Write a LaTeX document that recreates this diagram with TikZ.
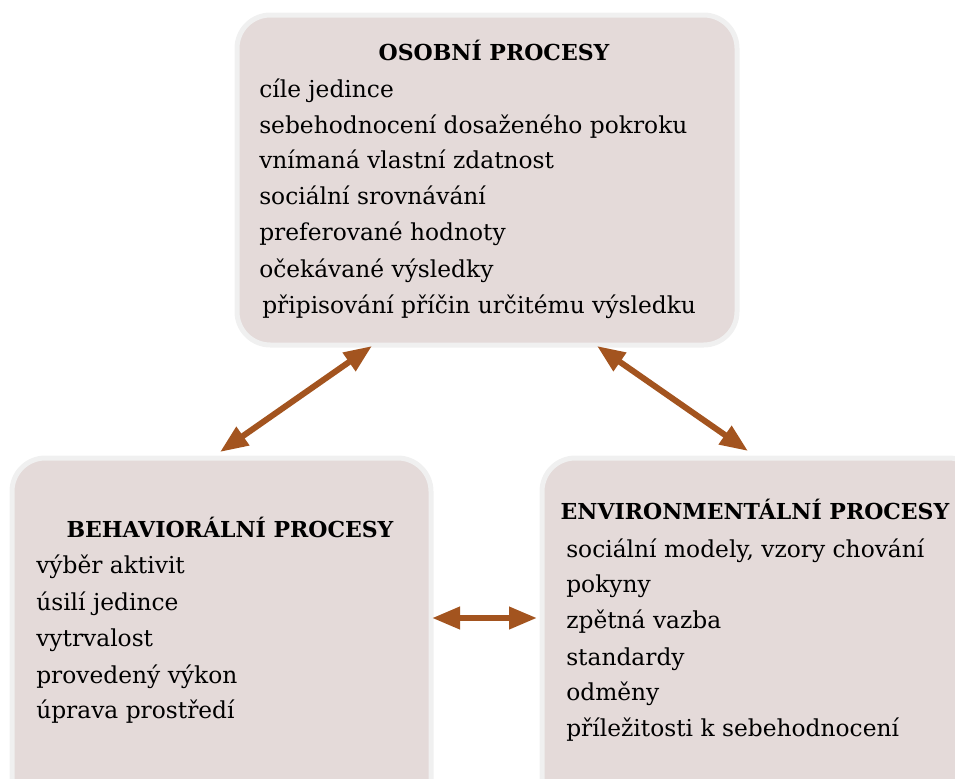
\documentclass[tikz,border=0pt]{standalone}
\usepackage{fontspec}
\setmainfont{DejaVu Serif}
\usetikzlibrary{arrows.meta}
\definecolor{panelfill}{HTML}{E4DAD9}
\definecolor{panelrim}{HTML}{F0F0F0}
\definecolor{linkcol}{HTML}{A3541F}
\tikzset{
  panel/.style={draw=panelrim, line width=3.75pt, fill=panelfill,
    rounded corners=25pt, inner sep=0pt, anchor=north west},
  heading/.style={anchor=base, inner sep=0pt, font=\fontsize{16.5}{19}\selectfont\bfseries},
  item/.style={anchor=base west, inner sep=0pt, font=\fontsize{17.5}{21}\selectfont},
  link/.style={draw=linkcol, line width=4.5pt,
    {Triangle[length=21pt, width=16pt]}-{Triangle[length=21pt, width=16pt]}}
}
\begin{document}
\begin{tikzpicture}[x=0.75pt, y=-0.75pt]
  \useasboundingbox (0,0) rectangle (955,778);
  \clip (0,0) rectangle (955,778);
  % three panels
  \node[panel, minimum width=375pt, minimum height=247.5pt] (pers) at (234.5,12.5) {};
  \node[panel, minimum width=314.25pt, minimum height=270pt] (beh) at (9.5,455.5) {};
  \node[panel, minimum width=330pt, minimum height=270pt] (env) at (539.5,455.5) {};

  % personal processes
  \node[heading] (persT) at (494,60) {OSOBNÍ PROCESY};
  \node[item] (p1) at (259,97) {cíle jedince};
  \node[item] (p2) at (259,133) {sebehodnocení dosaženého pokroku};
  \node[item] (p3) at (259,168) {vnímaná vlastní zdatnost};
  \node[item] (p4) at (259,204) {sociální srovnávání};
  \node[item] (p5) at (259,240) {preferované hodnoty};
  \node[item] (p6) at (259,277) {očekávané výsledky};
  \node[item] (p7) at (262,313) {připisování příčin určitému výsledku};

  % behavioural processes
  \node[heading] (behT) at (230,537) {BEHAVIORÁLNÍ PROCESY};
  \node[item] (b1) at (36,573) {výběr aktivit};
  \node[item] (b2) at (36,610) {úsilí jedince};
  \node[item] (b3) at (36,646) {vytrvalost};
  \node[item] (b4) at (36,683) {provedený výkon};
  \node[item] (b5) at (36,718) {úprava prostředí};

  % environmental processes
  \node[heading] (envT) at (755,519) {ENVIRONMENTÁLNÍ PROCESY};
  \node[item] (e1) at (566,557) {sociální modely, vzory chování};
  \node[item] (e2) at (566,592) {pokyny};
  \node[item] (e3) at (566,628) {zpětná vazba};
  \node[item] (e4) at (566,665) {standardy};
  \node[item] (e5) at (566,700) {odměny};
  \node[item] (e6) at (566,736) {příležitosti k sebehodnocení};

  % arrow end points next to the panels
  \coordinate (persL) at (372,346);
  \coordinate (behU) at (220,452);
  \coordinate (persR) at (597,346);
  \coordinate (envU) at (748,451);
  \coordinate (behR) at (432,618);
  \coordinate (envL) at (537,618);

  \draw[link] (behU) -- (persL);
  \draw[link] (persR) -- (envU);
  \draw[link] (behR) -- (envL);
\end{tikzpicture}
\end{document}
